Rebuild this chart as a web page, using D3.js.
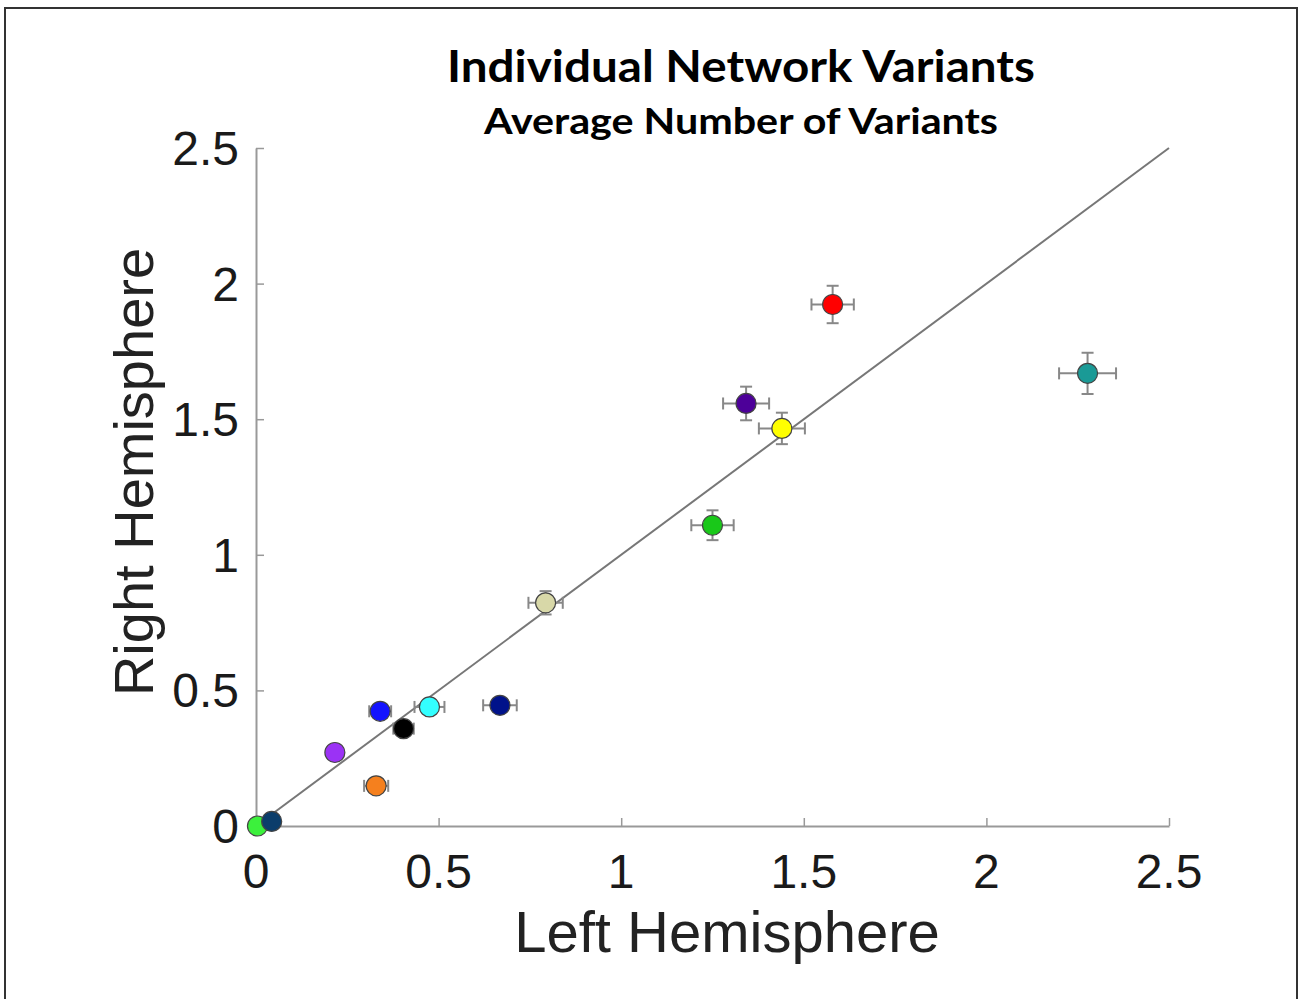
<!DOCTYPE html>
<html>
<head>
<meta charset="utf-8">
<script src="https://cdn.jsdelivr.net/npm/d3@7"></script>
<style>
  body { margin: 0; background: #fff; }
</style>
</head>
<body>
<div id="vis-holder"></div>
<script>
// Data (one entry per network)
const leftVals  = [0.004, 0.043, 0.216, 0.329, 0.340, 0.404, 0.475, 0.668, 0.793, 1.250, 1.342, 1.440, 1.579, 2.277];
const rightVals = [0.000, 0.017, 0.271, 0.148, 0.423, 0.359, 0.439, 0.445, 0.823, 1.109, 1.558, 1.466, 1.923, 1.669];
const leftErr   = [0.000, 0.010, 0.020, 0.033, 0.030, 0.028, 0.041, 0.046, 0.047, 0.058, 0.063, 0.063, 0.058, 0.078];
const rightErr  = [0.000, 0.010, 0.020, 0.020, 0.020, 0.020, 0.020, 0.020, 0.043, 0.055, 0.062, 0.058, 0.069, 0.076];
const pointColors = ["#3cf03c", "#0b3d6b", "#9b32f5", "#f5801e", "#1414ff", "#000000", "#33ffff",
                     "#00128a", "#d8d8a8", "#19c819", "#4d0099", "#ffff00", "#ff0000", "#1a9a96"];
const tickVals = [0, 0.5, 1, 1.5, 2, 2.5];
const tickLabels = ["0", "0.5", "1", "1.5", "2", "2.5"];

const data = leftVals.map((d, i) => ({
  x: d, y: rightVals[i], ex: leftErr[i], ey: rightErr[i], color: pointColors[i]
}));

const width = 1303;
const height = 999;
const margin = { top: 148, right: 134, bottom: 173, left: 256 };

const svg = d3.select("#vis-holder")
              .append("svg")
              .attr("width", width)
              .attr("height", height);

// outer frame
svg.append("rect")
   .attr("x", 5).attr("y", 8)
   .attr("width", 1292).attr("height", 1010)
   .attr("fill", "none")
   .attr("stroke", "#333")
   .attr("stroke-width", 2);

// scales
const x = d3.scaleLinear().domain([0, 2.5]).range([margin.left, width - margin.right]);
const y = d3.scaleLinear().domain([0, 2.5]).range([height - margin.bottom, margin.top]);

// x axis (ticks point inward)
const xAxis = svg.append("g")
   .attr("transform", `translate(0,${y(0)})`)
   .call(d3.axisTop(x).tickValues(tickVals).tickFormat("").tickSizeInner(8).tickSizeOuter(0));
xAxis.select(".domain").attr("stroke", "#999").attr("stroke-width", 2);
xAxis.selectAll(".tick line").attr("stroke", "#999").attr("stroke-width", 1.5);

// y axis
const yAxis = svg.append("g")
   .attr("transform", `translate(${x(0)},0)`)
   .call(d3.axisRight(y).tickValues(tickVals).tickFormat("").tickSizeInner(8).tickSizeOuter(0));
yAxis.select(".domain").attr("stroke", "#999").attr("stroke-width", 2);
yAxis.selectAll(".tick line").attr("stroke", "#999").attr("stroke-width", 1.5);

// tick labels
svg.append("g").selectAll("text")
   .data(tickVals)
   .join("text")
   .attr("x", d => x(d))
   .attr("y", y(0) + 62)
   .attr("text-anchor", "middle")
   .attr("font-family", "Liberation Sans, Arial, sans-serif")
   .attr("font-size", 48)
   .attr("fill", "#1a1a1a")
   .text((d, i) => tickLabels[i]);

svg.append("g").selectAll("text")
   .data(tickVals)
   .join("text")
   .attr("x", x(0) - 17)
   .attr("y", d => y(d) + 17)
   .attr("text-anchor", "end")
   .attr("font-family", "Liberation Sans, Arial, sans-serif")
   .attr("font-size", 48)
   .attr("fill", "#1a1a1a")
   .text((d, i) => tickLabels[i]);

// axis labels
svg.append("text")
   .attr("x", 727)
   .attr("y", 952)
   .attr("text-anchor", "middle")
   .attr("font-family", "Liberation Sans, Arial, sans-serif")
   .attr("font-size", 58)
   .attr("fill", "#222")
   .text("Left Hemisphere");

svg.append("text")
   .attr("transform", "translate(153,472) rotate(-90)")
   .attr("text-anchor", "middle")
   .attr("font-family", "Liberation Sans, Arial, sans-serif")
   .attr("font-size", 56)
   .attr("fill", "#222")
   .text("Right Hemisphere");

// titles
svg.append("text")
   .attr("x", 741)
   .attr("y", 82)
   .attr("text-anchor", "middle")
   .attr("font-family", "Lato, sans-serif")
   .attr("font-weight", 700)
   .attr("font-size", 43)
   .attr("textLength", 588)
   .attr("lengthAdjust", "spacingAndGlyphs")
   .text("Individual Network Variants");

svg.append("text")
   .attr("x", 741)
   .attr("y", 134)
   .attr("text-anchor", "middle")
   .attr("font-family", "Lato, sans-serif")
   .attr("font-weight", 700)
   .attr("font-size", 36)
   .attr("textLength", 514)
   .attr("lengthAdjust", "spacingAndGlyphs")
   .text("Average Number of Variants");

// identity line
svg.append("line")
   .attr("x1", x(0)).attr("y1", y(0))
   .attr("x2", x(2.5)).attr("y2", y(2.5))
   .attr("stroke", "#777")
   .attr("stroke-width", 2);

// error bars
const cap = 6;
const err = svg.append("g")
   .attr("stroke", "#888")
   .attr("stroke-width", 2)
   .selectAll("g")
   .data(data.filter(d => d.ex > 0 || d.ey > 0))
   .join("g");

err.append("line")
   .attr("x1", d => x(d.x - d.ex)).attr("x2", d => x(d.x + d.ex))
   .attr("y1", d => y(d.y)).attr("y2", d => y(d.y));
err.append("line")
   .attr("x1", d => x(d.x - d.ex)).attr("x2", d => x(d.x - d.ex))
   .attr("y1", d => y(d.y) - cap).attr("y2", d => y(d.y) + cap);
err.append("line")
   .attr("x1", d => x(d.x + d.ex)).attr("x2", d => x(d.x + d.ex))
   .attr("y1", d => y(d.y) - cap).attr("y2", d => y(d.y) + cap);
err.append("line")
   .attr("x1", d => x(d.x)).attr("x2", d => x(d.x))
   .attr("y1", d => y(d.y - d.ey)).attr("y2", d => y(d.y + d.ey));
err.append("line")
   .attr("x1", d => x(d.x) - cap).attr("x2", d => x(d.x) + cap)
   .attr("y1", d => y(d.y - d.ey)).attr("y2", d => y(d.y - d.ey));
err.append("line")
   .attr("x1", d => x(d.x) - cap).attr("x2", d => x(d.x) + cap)
   .attr("y1", d => y(d.y + d.ey)).attr("y2", d => y(d.y + d.ey));

// points
svg.append("g").selectAll("circle")
   .data(data)
   .join("circle")
   .attr("cx", d => x(d.x))
   .attr("cy", d => y(d.y))
   .attr("r", 10)
   .attr("fill", d => d.color)
   .attr("stroke", "#444")
   .attr("stroke-width", 1.2);
</script>
</body>
</html>
